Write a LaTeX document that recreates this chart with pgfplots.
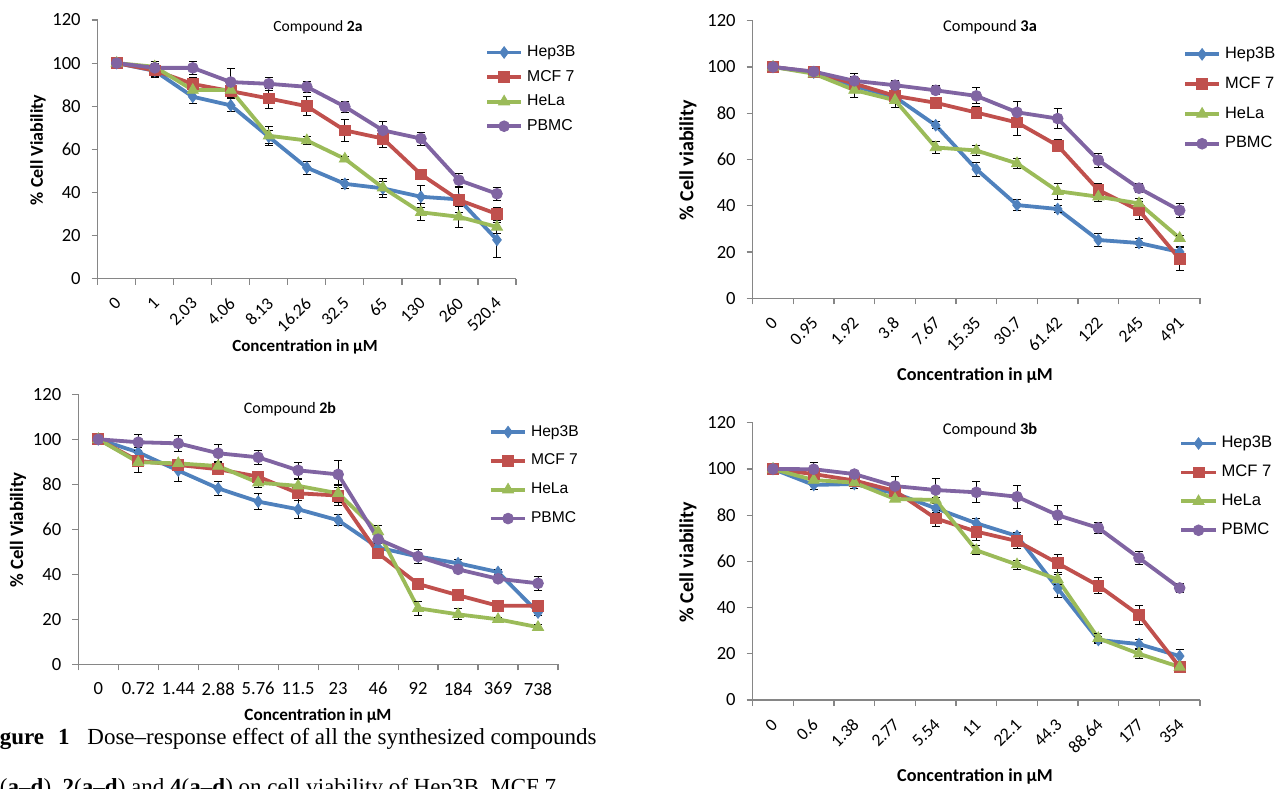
\documentclass[border=0pt]{standalone}
\usepackage{pgfplots}
\pgfplotsset{compat=1.18}
\usepackage{pgfplotstable}
\usepackage{fontspec}
\setmainfont{Carlito}
\newfontfamily\legfont{Liberation Sans}
\newfontfamily\capfont{Liberation Serif}

\definecolor{cblue}{HTML}{4F81BD}
\definecolor{cred}{HTML}{C0504D}
\definecolor{cgreen}{HTML}{9BBB59}
\definecolor{cpurple}{HTML}{8064A2}
\definecolor{axgray}{HTML}{868686}

% x hep hepe mcf mcfe hela helae pbmc pbmce
\pgfplotstableread{
x hep hepe mcf mcfe hela helae pbmc pbmce
0 100 0 100 0 100 0 100 0
1 96.4 3 96.6 3 98.3 1 97.8 3
2 84.4 3 90.3 3 87.5 1 97.8 3
3 80.4 3 87 3 87.5 1 91.2 6.5
4 65.8 3 83.6 4.5 66.3 4.5 90.4 3
5 51.5 3 80 4.5 64.1 2 89 2.5
6 44 2 68.8 5 55.6 1 79.8 2.5
7 41.9 3 65 4 42.2 4.5 68.8 4
8 38 5 48.4 1 30.8 4 65 3
9 36.8 6 36.5 6 28.7 5 45.7 3
10 18 8 30 3 24 3 39.4 3
}\tabA

\pgfplotstableread{
x hep hepe mcf mcfe hela helae pbmc pbmce
0 100 0 100 0 100 0 100 0
1 97.6 1 97.8 1.5 97.1 1 98 1.5
2 91.7 2 92.8 3 90 3 94 3
3 87 2 87.5 2 85.6 3 92.1 2
4 74.8 1.5 84.5 2 65.2 2.5 89.9 2
5 55.8 3 80.3 2.5 63.9 2 87.5 3.5
6 40.3 2.5 76 5.5 58.3 2 80.4 4.5
7 38.6 1.5 66 2.5 46.3 3.5 77.7 4.5
8 25.2 3 46.8 3 43.9 2 59.7 3
9 23.9 2 38 4 41 2 47.6 2
10 20 2.5 17 5 26 1 38 3
}\tabB

\pgfplotstableread{
x hep hepe mcf mcfe hela helae pbmc pbmce
0 100 0 100 0 100 0 100 0
1 94.2 2 90.4 2 89.8 4.5 98.7 3.5
2 86.1 5 88.6 2 89.3 1.5 98.2 3.5
3 78.2 3 86.7 2 88.1 2 93.8 4
4 72.3 3.5 83.4 1 80.7 2 92 3
5 68.9 4 76 3 79.3 3 86.2 3.5
6 64 2.5 75 4.5 76 4 84.4 6
7 51.9 2 49.3 2.5 59 2.5 55.6 1.5
8 47.9 3 35.7 2 24.9 3 47.9 3
9 44.9 1.5 30.7 2 22.2 2.5 42.2 1
10 41 1 26 1 20 1 38 1.5
11 23 1.5 26 1 16.5 1 36 3
}\tabC

\pgfplotstableread{
x hep hepe mcf mcfe hela helae pbmc pbmce
0 100 0 100 0 100 0 100 0
1 93.1 2 97.8 2 95.2 1 99.9 3
2 93.5 2 95 1.5 94.1 1 97.8 1.5
3 89.5 1.5 90.5 2 87 1 92.6 4
4 83 2 78.6 3.5 86.6 1 90.9 5
5 76.5 2 72.9 4 64.8 2 89.9 4.5
6 71 1.5 68.8 3 58.6 2 88 5
7 48.3 4 59.2 4 52.2 2 80 4
8 26 1.5 49.5 3.5 26.7 2 74.5 2.5
9 24.2 2 36.8 4 20 2 61.5 3
10 19 3 14.3 2 14.3 2 48.5 2
}\tabD

\pgfplotsset{
  panel/.style={
    scale only axis, anchor=south west,
    axis x line*=bottom, axis y line*=left,
    axis line style={axgray, line width=0.6pt},
    ymin=0, ymax=120, ytick={0,20,...,120}, minor ytick={0,20,...,120},
    enlargelimits=false, clip=false,
    major tick length=0pt, minor tick length=3pt, tick align=outside,
    minor tick style={axgray, line width=0.6pt},
    /pgf/number format/assume math mode=true,
    tick label style={font=\fontsize{9.3}{10}\selectfont, text=black},
    yticklabel style={xshift=-5pt},
    legend cell align=left,
    legend style={draw=none, fill=none, anchor=north west},
    error bars/y dir=both, error bars/y explicit,
    error bars/error bar style={black, line width=0.5pt, solid},
    error bars/error mark options={black, line width=0.5pt, mark size=2pt, rotate=90, solid},
  },
  rotlab/.style={xticklabel style={font=\fontsize{8.8}{9}\selectfont, inner sep=0pt, xshift=0.8pt, yshift=-10.8pt, rotate=45, anchor=east}},
  s1/.style={color=cblue, line width=1.9pt, mark=diamond*, mark size=2.9pt, mark options={solid, fill=cblue, line width=0.4pt}},
  s2/.style={color=cred, line width=1.9pt, mark=square*, mark size=2.7pt, mark options={solid, fill=cred, line width=0.4pt}},
  s3/.style={color=cgreen, line width=1.9pt, mark=triangle*, mark size=3.2pt, mark options={solid, fill=cgreen, line width=0.4pt}},
  s4/.style={color=cpurple, line width=1.9pt, mark=*, mark size=2.7pt, mark options={solid, fill=cpurple, line width=0.4pt}},
}

\newcommand\allseries[1]{%
  \addplot[s1] table[x=x, y=hep, y error=hepe] {#1};
  \addplot[s2] table[x=x, y=mcf, y error=mcfe] {#1};
  \addplot[s3] table[x=x, y=hela, y error=helae] {#1};
  \addplot[s4] table[x=x, y=pbmc, y error=pbmce] {#1};
  \legend{Hep3B,MCF 7,HeLa,PBMC}
}

\begin{document}
\begin{tikzpicture}
\useasboundingbox (0,0) rectangle (640.5pt,394pt);

% ---------- Compound 2a ----------
\begin{axis}[panel, rotlab, at={(48.85pt,254.65pt)}, width=209.15pt, height=129.35pt,
  xmin=-0.5, xmax=10.5, xtick={0,...,10}, minor xtick={-0.5,0.5,...,10.5},
  xticklabels={0,1,2.03,4.06,8.13,16.26,32.5,65,130,260,520.4},
  legend style={at={(0.911,0.934)}, row sep=1.3pt, font=\legfont\fontsize{7.9}{9}\selectfont}]
\allseries{\tabA}
\end{axis}

% ---------- Compound 3a ----------
\begin{axis}[panel, rotlab, at={(376.35pt,244.85pt)}, width=223.65pt, height=138.8pt,
  xmin=-0.5, xmax=10.5, xtick={0,...,10}, minor xtick={-0.5,0.5,...,10.5},
  xticklabels={0,0.95,1.92,3.8,7.67,15.35,30.7,61.42,122,245,491},
  legend style={at={(0.948,0.935)}, row sep=3.7pt, font=\legfont\fontsize{8.2}{9}\selectfont}]
\allseries{\tabB}
\end{axis}

% ---------- Compound 2b ----------
\begin{axis}[panel, at={(39.15pt,61.85pt)}, width=239.85pt, height=135pt,
  xmin=-0.5, xmax=11.5, xtick={0,...,11}, minor xtick={-0.5,0.5,...,11.5},
  xticklabels={0,0.72,1.44,2.88,5.76,11.5,23,46,92,184,369,738},
  xticklabel style={yshift=-5.5pt},
  legend style={at={(0.843,0.917)}, row sep=3.5pt, font=\legfont\fontsize{7.8}{9}\selectfont}]
\allseries{\tabC}
\end{axis}

% ---------- Compound 3b ----------
\begin{axis}[panel, rotlab, at={(376.35pt,44pt)}, width=223.65pt, height=138.6pt,
  xmin=-0.5, xmax=10.5, xtick={0,...,10}, minor xtick={-0.5,0.5,...,10.5},
  xticklabels={0,0.6,1.38,2.77,5.54,11,22.1,44.3,88.64,177,354},
  legend style={at={(0.94,0.982)}, row sep=3.2pt, font=\legfont\fontsize{8.3}{9}\selectfont}]
\allseries{\tabD}
\end{axis}

% titles
\node[font=\fontsize{7.8}{9}\selectfont] at (159pt,380.5pt) {Compound \textbf{2a}};
\node[font=\fontsize{8.2}{9}\selectfont] at (495pt,380.5pt) {Compound \textbf{3a}};
\node[font=\fontsize{8}{9}\selectfont] at (145pt,189.5pt) {Compound \textbf{2b}};
\node[font=\fontsize{8.2}{9}\selectfont] at (495pt,179pt) {Compound \textbf{3b}};

% y labels
\node[rotate=90, font=\bfseries\fontsize{9}{10}\selectfont] at (19pt,319pt) {\% Cell Viability};
\node[rotate=90, font=\bfseries\fontsize{10}{11}\selectfont] at (344pt,314pt) {\% Cell viability};
\node[rotate=90, font=\bfseries\fontsize{9.4}{10}\selectfont] at (9pt,129pt) {\% Cell Viability};
\node[rotate=90, font=\bfseries\fontsize{10}{11}\selectfont] at (344pt,113pt) {\% Cell viability};

% x labels
\node[font=\bfseries\fontsize{8.5}{10}\selectfont] at (152.5pt,220.5pt) {Concentration in µM};
\node[font=\bfseries\fontsize{9.1}{10}\selectfont] at (487.5pt,206pt) {Concentration in µM};
\node[font=\bfseries\fontsize{8.6}{10}\selectfont] at (159pt,36pt) {Concentration in µM};
\node[font=\bfseries\fontsize{9.1}{10}\selectfont] at (487.5pt,5.5pt) {Concentration in µM};

% caption (cut by the page edge)
\node[anchor=base east, inner sep=0pt, font=\capfont\bfseries\fontsize{11.5}{13}\selectfont] at (35pt,22pt) {Figure\hspace{7pt}1};
\node[anchor=base west, inner sep=0pt, font=\capfont\fontsize{11.5}{13}\selectfont] at (43.5pt,22pt) {Dose–response effect of all the synthesized compounds};
\node[anchor=base west, inner sep=0pt, font=\capfont\fontsize{11.5}{13}\selectfont] at (-6pt,-3pt) {\textbf{1}(\textbf{a}–\textbf{d}), \textbf{2}(\textbf{a}–\textbf{d}) and \textbf{4}(\textbf{a}–\textbf{d}) on cell viability of Hep3B, MCF 7,};
\end{tikzpicture}
\end{document}
